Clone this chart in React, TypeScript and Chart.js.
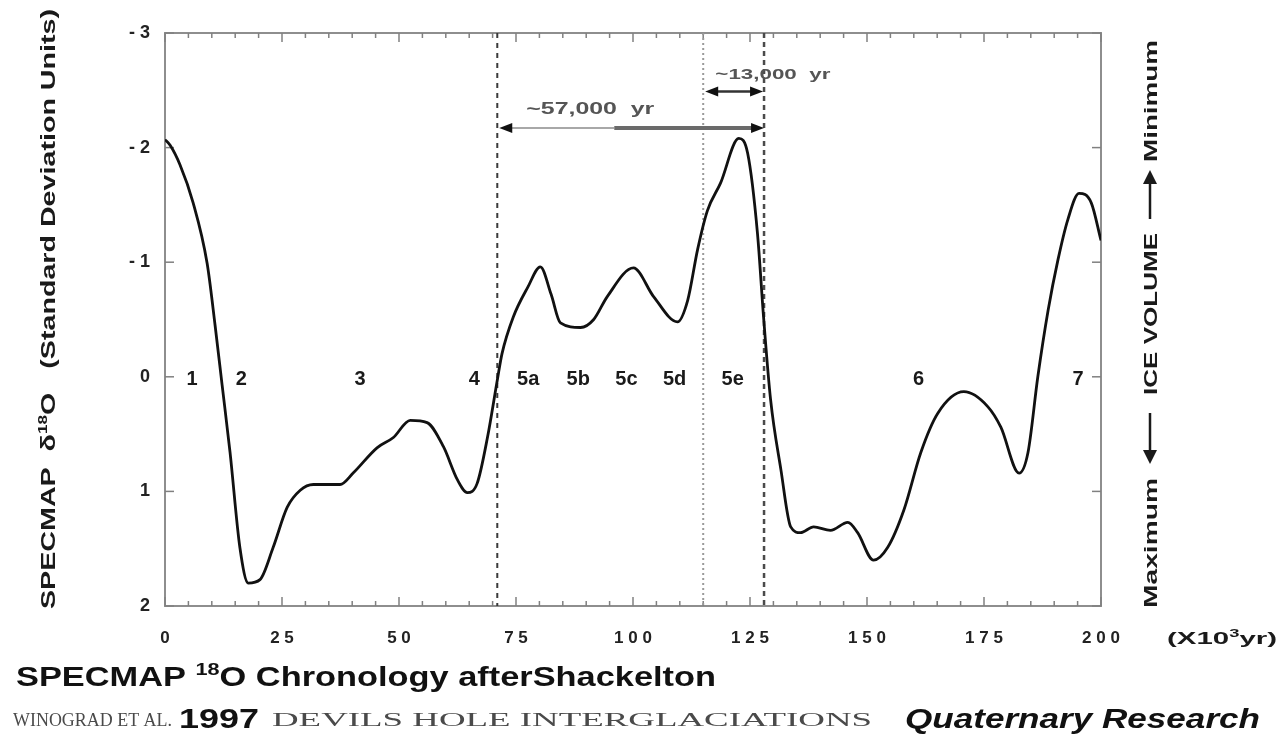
import React, { useEffect, useRef } from "react";
import { Chart, registerables } from "chart.js";

Chart.register(...registerables);

// ---- data ----
const ageKyr = [
  0, 1.1, 3.2, 6.0, 9.0, 10.7, 12.2, 13.9, 16.0, 17.8, 20.3, 23.1, 26.1, 28.9, 31.7, 37.4, 40.2,
  45.3, 48.8, 52.4, 56.0, 59.5, 62.5, 64.6, 66.7, 68.9, 71.0, 72.0, 74.4, 77.5, 80.2, 82.5, 84.5,
  88.8, 91.6, 94.5, 100.1, 104.4, 109.5, 111.7, 113.8, 115.9, 118.7, 122.6, 124.5, 126.6, 127.9,
  129.4, 131.6, 133.7, 135.8, 138.6, 142.2, 145.9, 148.0, 151.4, 154.4, 157.9, 161.5, 165.1,
  170.7, 175.8, 178.6, 182.5, 184.4, 186.5, 188.7, 190.8, 192.9, 195.3, 197.9, 200,
];
const specmapSigma = [
  -2.07, -2.02, -1.85, -1.52, -0.99, -0.45, 0.07, 0.66, 1.49, 1.8, 1.77, 1.49, 1.14, 0.99, 0.94,
  0.94, 0.84, 0.62, 0.53, 0.38, 0.4, 0.61, 0.9, 1.01, 0.93, 0.53, 0.03, -0.2, -0.52, -0.78, -0.96,
  -0.72, -0.47, -0.43, -0.5, -0.7, -0.95, -0.7, -0.48, -0.67, -1.11, -1.45, -1.69, -2.08, -1.95,
  -1.25, -0.52, 0.2, 0.81, 1.31, 1.36, 1.31, 1.34, 1.27, 1.36, 1.6, 1.49, 1.16, 0.66, 0.32, 0.13,
  0.26, 0.44, 0.84, 0.66, 0.0, -0.58, -1.02, -1.37, -1.6, -1.52, -1.19,
];
const xTickValues = [0, 25, 50, 75, 100, 125, 150, 175, 200];
const yTickValues = [-3, -2, -1, 0, 1, 2];
const stageNames = ["1", "2", "3", "4", "5a", "5b", "5c", "5d", "5e", "6", "7"];
const stageAgeKyr = [5.8, 16.3, 41.7, 66.1, 77.6, 88.3, 98.6, 108.9, 121.3, 161, 195.1];
const boundaryAgeKyr = [71, 115, 128];
const longSpanLabel = "~57,000  yr";
const shortSpanLabel = "~13,000  yr";

const SANS = "'Liberation Sans', Arial, sans-serif";
const SERIF = "'Liberation Serif', 'Times New Roman', serif";

type Seg = { t: string; font: string; dy?: number; color?: string };

function drawRich(
  ctx: CanvasRenderingContext2D,
  segs: Seg[],
  x: number,
  y: number,
  width: number | null,
  align: "left" | "center"
) {
  ctx.save();
  let total = 0;
  const ws = segs.map((s) => {
    ctx.font = s.font;
    const w = ctx.measureText(s.t).width;
    total += w;
    return w;
  });
  const sx = width ? width / total : 1;
  ctx.translate(x, y);
  ctx.scale(sx, 1);
  let cx = align === "center" ? -total / 2 : 0;
  ctx.textAlign = "left";
  ctx.textBaseline = "alphabetic";
  segs.forEach((s, i) => {
    ctx.font = s.font;
    if (s.color) ctx.fillStyle = s.color;
    ctx.fillText(s.t, cx, s.dy || 0);
    cx += ws[i];
  });
  ctx.restore();
}

function line(ctx: CanvasRenderingContext2D, x1: number, y1: number, x2: number, y2: number) {
  ctx.beginPath();
  ctx.moveTo(x1, y1);
  ctx.lineTo(x2, y2);
  ctx.stroke();
}

function arrowHead(ctx: CanvasRenderingContext2D, x: number, y: number, dir: number) {
  ctx.beginPath();
  ctx.moveTo(x, y);
  ctx.lineTo(x - dir * 13, y - 5);
  ctx.lineTo(x - dir * 13, y + 5);
  ctx.closePath();
  ctx.fill();
}

function vArrow(ctx: CanvasRenderingContext2D, x: number, yTail: number, yHead: number) {
  const dir = yHead > yTail ? 1 : -1;
  ctx.lineWidth = 2.5;
  line(ctx, x, yTail, x, yHead - dir * 10);
  ctx.beginPath();
  ctx.moveTo(x, yHead);
  ctx.lineTo(x - 7, yHead - dir * 14);
  ctx.lineTo(x + 7, yHead - dir * 14);
  ctx.closePath();
  ctx.fill();
}

function rotatedText(ctx: CanvasRenderingContext2D, segs: Seg[], cx: number, cy: number, len: number, off: number) {
  ctx.save();
  ctx.translate(cx, cy);
  ctx.rotate(-Math.PI / 2);
  drawRich(ctx, segs, 0, off, len, "center");
  ctx.restore();
}

const overlay = {
  id: "overlay",
  beforeDatasetsDraw(chart: any) {
    const { ctx, chartArea: a, scales } = chart;
    const x = scales.x;
    const y = scales.y;
    ctx.save();
    ctx.strokeStyle = "#8e8e8e";
    ctx.lineWidth = 2;
    ctx.strokeRect(a.left, a.top, a.right - a.left, a.bottom - a.top);
    ctx.strokeStyle = "#808080";
    ctx.lineWidth = 1.5;
    for (let v = 0; v <= 200; v += 5) {
      const px = x.getPixelForValue(v);
      const len = v % 25 === 0 ? 9 : 5;
      line(ctx, px, a.bottom, px, a.bottom - len);
      line(ctx, px, a.top, px, a.top + len);
    }
    yTickValues.forEach((v) => {
      const py = y.getPixelForValue(v);
      line(ctx, a.left, py, a.left + 9, py);
      line(ctx, a.right, py, a.right - 9, py);
    });
    const styles = [
      { c: "#3a3a3a", w: 2, d: [5, 5] },
      { c: "#9a9a9a", w: 2, d: [2, 3] },
      { c: "#4a4a4a", w: 2.5, d: [5, 4] },
    ];
    boundaryAgeKyr.forEach((b, i) => {
      const s = styles[i];
      ctx.strokeStyle = s.c;
      ctx.lineWidth = s.w;
      ctx.setLineDash(s.d);
      const px = x.getPixelForValue(b);
      line(ctx, px, a.top, px, a.bottom);
    });
    ctx.setLineDash([]);
    ctx.restore();
  },
  afterDatasetsDraw(chart: any) {
    const { ctx, chartArea: a, scales } = chart;
    const x = scales.x;
    const y = scales.y;
    ctx.save();
    // long arrow (~57,000 yr)
    const x0 = x.getPixelForValue(boundaryAgeKyr[0]);
    const x1 = x.getPixelForValue(boundaryAgeKyr[1]);
    const x2 = x.getPixelForValue(boundaryAgeKyr[2]);
    const xm = x.getPixelForValue(96);
    const yl = y.getPixelForValue(-2.17);
    ctx.strokeStyle = "#a8a8a8";
    ctx.lineWidth = 2;
    line(ctx, x0 + 8, yl, xm, yl);
    ctx.strokeStyle = "#6a6a6a";
    ctx.lineWidth = 4;
    line(ctx, xm, yl, x2 - 8, yl);
    ctx.fillStyle = "#111";
    arrowHead(ctx, x0 + 2, yl, -1);
    arrowHead(ctx, x2, yl, 1);
    ctx.fillStyle = "#555";
    drawRich(ctx, [{ t: longSpanLabel, font: `bold 16px ${SANS}` }], x.getPixelForValue(77.2), y.getPixelForValue(-2.29), 128, "left");
    // short arrow (~13,000 yr)
    const ys = y.getPixelForValue(-2.49);
    ctx.strokeStyle = "#333";
    ctx.lineWidth = 2.5;
    line(ctx, x1 + 8, ys, x2 - 8, ys);
    ctx.fillStyle = "#111";
    arrowHead(ctx, x1 + 2, ys, -1);
    arrowHead(ctx, x2 - 1, ys, 1);
    ctx.fillStyle = "#555";
    drawRich(ctx, [{ t: shortSpanLabel, font: `bold 15px ${SANS}` }], x.getPixelForValue(117.6), y.getPixelForValue(-2.6), 115, "left");

    // stage labels
    ctx.fillStyle = "#1a1a1a";
    stageNames.forEach((s, i) => {
      const px = x.getPixelForValue(stageAgeKyr[i]);
      const py = y.getPixelForValue(0) + 8;
      drawRich(ctx, [{ t: s, font: `bold 20px ${SANS}` }], px, py, null, "center");
    });

    // left axis title (rotated)
    ctx.fillStyle = "#1a1a1a";
    rotatedText(
      ctx,
      [
        { t: "SPECMAP  δ", font: `bold 20px ${SANS}` },
        { t: "18", font: `bold 12px ${SANS}`, dy: -8 },
        { t: "O   (Standard Deviation Units)", font: `bold 20px ${SANS}` },
      ],
      47,
      309,
      600,
      8
    );

    // right axis title (rotated, with drawn arrows)
    const rx = 1150;
    rotatedText(ctx, [{ t: "Maximum", font: `bold 19px ${SANS}` }], rx, 543, 130, 7);
    rotatedText(ctx, [{ t: "ICE VOLUME", font: `bold 19px ${SANS}` }], rx, 314, 162, 7);
    rotatedText(ctx, [{ t: "Minimum", font: `bold 19px ${SANS}` }], rx, 101, 122, 7);
    ctx.strokeStyle = "#1a1a1a";
    ctx.fillStyle = "#1a1a1a";
    vArrow(ctx, rx, 413, 464);
    vArrow(ctx, rx, 219, 170);

    // x unit
    drawRich(
      ctx,
      [
        { t: "(X10", font: `bold 16px ${SANS}` },
        { t: "3", font: `bold 10px ${SANS}`, dy: -7 },
        { t: "yr)", font: `bold 16px ${SANS}` },
      ],
      1167,
      a.bottom + 38,
      110,
      "left"
    );

    // bottom titles
    ctx.fillStyle = "#111";
    drawRich(
      ctx,
      [
        { t: "SPECMAP ", font: `bold 27px ${SANS}` },
        { t: "18", font: `bold 17px ${SANS}`, dy: -11 },
        { t: "O Chronology afterShackelton", font: `bold 27px ${SANS}` },
      ],
      16,
      686,
      700,
      "left"
    );
    drawRich(ctx, [{ t: "WINOGRAD ET AL.", font: `19px ${SERIF}`, color: "#4a4a4a" }], 13, 726, 159, "left");
    drawRich(ctx, [{ t: "1997", font: `bold 27px ${SANS}`, color: "#111" }], 179, 728, 80, "left");
    drawRich(ctx, [{ t: "DEVILS HOLE INTERGLACIATIONS", font: `19px ${SERIF}`, color: "#4a4a4a" }], 272, 726, 600, "left");
    drawRich(ctx, [{ t: "Quaternary Research", font: `italic bold 27px ${SANS}`, color: "#111" }], 905, 728, 355, "left");
    ctx.restore();
  },
};

export default function App() {
  const ref = useRef<HTMLCanvasElement | null>(null);
  useEffect(() => {
    if (!ref.current) return;
    const chart = new Chart(ref.current, {
      type: "line",
      data: {
        datasets: [
          {
            data: ageKyr.map((a, i) => ({ x: a, y: specmapSigma[i] })),
            borderColor: "#111",
            borderWidth: 2.8,
            pointRadius: 0,
            cubicInterpolationMode: "monotone",
            fill: false,
          },
        ],
      },
      options: {
        animation: false,
        responsive: false,
        devicePixelRatio: 1,
        layout: { padding: { top: 33, left: 0, right: 0, bottom: 0 } },
        plugins: { legend: { display: false }, tooltip: { enabled: false } },
        scales: {
          x: {
            type: "linear",
            min: 0,
            max: 200,
            afterFit: (s: any) => {
              s.height = 140;
            },
            afterBuildTicks: (s: any) => {
              s.ticks = xTickValues.map((v) => ({ value: v }));
            },
            grid: { display: false, drawTicks: false },
            border: { display: false },
            ticks: {
              autoSkip: false,
              maxRotation: 0,
              padding: 22,
              color: "#222",
              font: { family: SANS, size: 17, weight: "bold" },
              callback: (v: any) => String(v).split("").join(" "),
            },
          },
          y: {
            type: "linear",
            position: "left",
            min: -3,
            max: 2,
            reverse: true,
            afterFit: (s: any) => {
              s.width = 165;
            },
            afterBuildTicks: (s: any) => {
              s.ticks = yTickValues.map((v) => ({ value: v }));
            },
            grid: { display: false, drawTicks: false },
            border: { display: false },
            ticks: {
              padding: 15,
              color: "#222",
              font: { family: SANS, size: 18, weight: "bold" },
              callback: (v: any) => (Number(v) < 0 ? "- " + Math.abs(Number(v)) : String(v)),
            },
          },
          y2: {
            type: "linear",
            position: "right",
            min: -3,
            max: 2,
            reverse: true,
            afterFit: (s: any) => {
              s.width = 182;
            },
            grid: { display: false, drawTicks: false },
            border: { display: false },
            ticks: { display: false },
          },
        },
      },
      plugins: [overlay],
    } as any);
    return () => chart.destroy();
  }, []);
  return (
    <div style={{ position: "absolute", left: 0, top: 0, width: 1283, height: 746, background: "#fff" }}>
      <canvas ref={ref} width={1283} height={746} style={{ display: "block" }} />
    </div>
  );
}
